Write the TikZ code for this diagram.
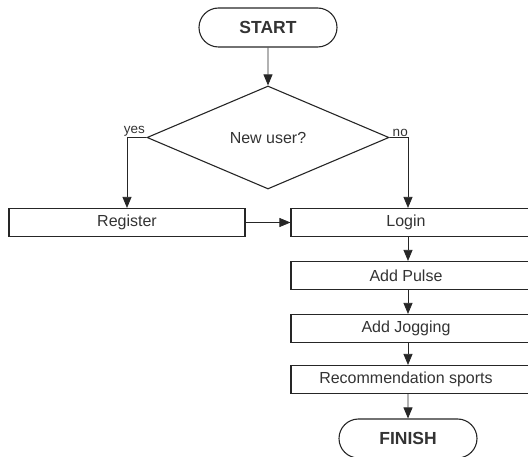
\documentclass[tikz,border=0pt]{standalone}
\usepackage{fontspec}
\setmainfont{Liberation Sans}
\usetikzlibrary{shapes.geometric,shapes.misc,arrows.meta}
\tikzset{
  box/.style={draw=black!85, line width=1.1pt, rectangle, minimum height=28pt, inner sep=0pt, text=black!80, font=\fontsize{16}{18}\selectfont},
  rbox/.style={box, minimum width=254pt, execute at begin node={\hspace*{-24pt}}},
  term/.style={draw=black!85, line width=1.1pt, rounded rectangle, minimum width=138pt, minimum height=39pt, inner sep=0pt, text=black!80, font=\fontsize{17.5}{20}\selectfont\bfseries},
  question/.style={draw=black!85, line width=1.1pt, diamond, minimum width=242pt, minimum height=103pt, inner sep=0pt, text=black!80, font=\fontsize{16}{18}\selectfont},
  flow/.style={draw=black!85, line width=0.8pt, -{Triangle[length=11pt,width=9pt]}},
  answer/.style={text=black!80, inner sep=0.5pt, font=\fontsize{13.5}{15}\selectfont}
}
\begin{document}
\begin{tikzpicture}[x=1pt,y=-1pt]
    \useasboundingbox (0,0) rectangle (528,457);
    \clip (0,0) rectangle (528,457);

    \node[term] (start) at (268,27.5) {START};
    \node[question] (user) at (268,137.5) {New user?};
    \node[box, minimum width=236pt] (register) at (127,222.5) {Register};
    \node[rbox] (login) at (418,222.5) {Login};
    \node[rbox] (pulse) at (418,275.5) {Add Pulse};
    \node[rbox] (jogging) at (418,328.5) {Add Jogging};
    \node[rbox] (sports) at (418,379.5) {Recommendation sports};
    \node[term] (finish) at (408,438.5) {FINISH};

    \draw[flow] (start) -- (user);
    \draw[flow] (user.west) -| node[answer, pos=0.31, above] {yes} (register.north);
    \draw[flow] (user.east) -| node[answer, pos=0.29, above] {no} (login.north -| finish);
    \draw[flow] (register) -- (login);
    \draw[flow] (login.south -| finish) -- (pulse.north -| finish);
    \draw[flow] (pulse.south -| finish) -- (jogging.north -| finish);
    \draw[flow] (jogging.south -| finish) -- (sports.north -| finish);
    \draw[flow] (sports.south -| finish) -- (finish);
\end{tikzpicture}
\end{document}
